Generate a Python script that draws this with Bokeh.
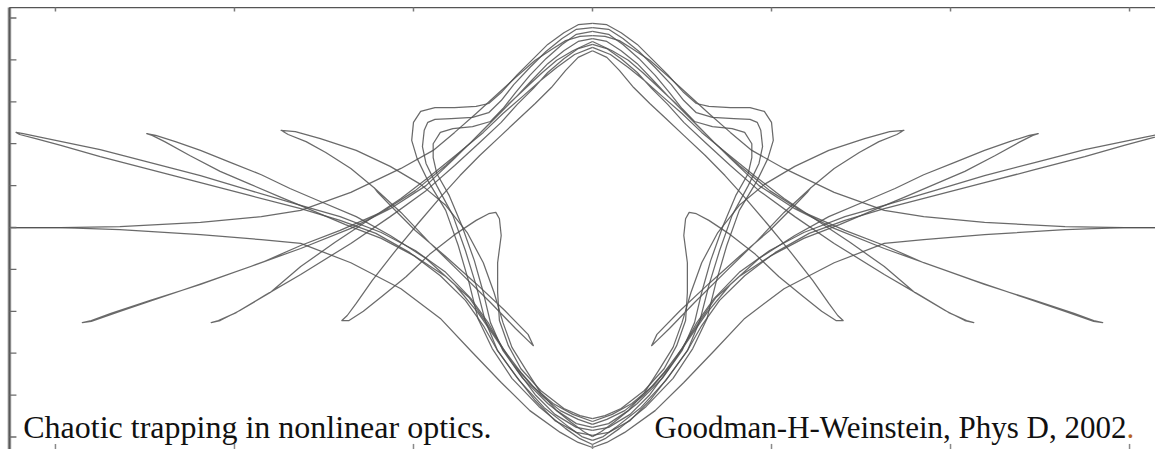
from bokeh.plotting import figure
from bokeh.models import Label
from bokeh.embed import file_html
from bokeh.resources import INLINE

# Left half of the trapped trajectory; the right half is its mirror image (x -> -x).
# Each strand is one pen stroke in (X, Y) plot units.
incoming_upper_x = [-3.26, -2.97, -2.64, -2.19, -1.85, -1.63, -1.35, -1.07, -0.89, -0.77, -0.65,
                    -0.54, -0.43, -0.32, -0.22, -0.15, -0.07, 0.0]
incoming_upper_y = [0.0, 0.0, 0.02, 0.12, 0.26, 0.41, 0.84, 1.41, 1.84, 2.27, 2.72,
                    3.15, 3.58, 3.99, 4.27, 4.46, 4.56, 4.58]

incoming_lower_x = [-3.26, -2.97, -2.64, -2.19, -1.85, -1.63, -1.35, -1.07, -0.85, -0.68,
                    -0.51, -0.35, -0.18, -0.08, 0.0]
incoming_lower_y = [0.0, 0.0, -0.05, -0.17, -0.29, -0.38, -0.84, -1.46, -2.17, -2.94,
                    -3.70, -4.37, -4.89, -5.13, -5.25]

# turns at the shoulders of the well
turn_1_x = [0.0, -0.08, -0.16, -0.25, -0.33, -0.42, -0.51, -0.58, -0.65, -0.77,
            -0.88, -0.96, -1.00, -1.01, -0.98, -0.92, -0.82, -0.75, -0.69, -0.64,
            -0.56, -0.45, -0.30, -0.15, -0.07, 0.0]
turn_1_y = [4.87, 4.84, 4.65, 4.37, 4.03, 3.65, 3.22, 2.96, 2.89, 2.86,
            2.86, 2.77, 2.51, 2.08, 1.65, 1.12, 0.41, -0.43, -1.31, -2.17,
            -2.89, -3.60, -4.27, -4.80, -5.04, -5.18]

turn_2_x = [0.0, -0.09, -0.17, -0.26, -0.35, -0.44, -0.51, -0.58, -0.67, -0.79,
            -0.88, -0.92, -0.94, -0.95, -0.93, -0.87, -0.78, -0.71, -0.65, -0.60,
            -0.53, -0.41, -0.27, -0.13, -0.06, 0.0]
turn_2_y = [4.77, 4.73, 4.51, 4.20, 3.82, 3.41, 3.03, 2.74, 2.63, 2.60,
            2.58, 2.51, 2.32, 1.93, 1.53, 1.00, 0.29, -0.55, -1.38, -2.22,
            -2.94, -3.65, -4.30, -4.77, -4.99, -5.08]

turn_3_x = [0.0, -0.09, -0.17, -0.26, -0.35, -0.43, -0.50, -0.57, -0.67, -0.78,
            -0.85, -0.89, -0.89, -0.87, -0.80, -0.73, -0.66, -0.61, -0.57, -0.50,
            -0.39, -0.25, -0.12, -0.05, 0.0]
turn_3_y = [4.68, 4.61, 4.37, 4.03, 3.63, 3.22, 2.84, 2.53, 2.41, 2.36,
            2.27, 2.00, 1.67, 1.29, 0.76, 0.05, -0.79, -1.55, -2.27, -2.94,
            -3.60, -4.20, -4.65, -4.87, -4.99]

# excursions into the lower-left lobes
lobe_l1_x = [0.0, -0.08, -0.16, -0.25, -0.34, -0.43, -0.53, -0.64, -0.77, -0.93,
             -1.13, -1.35, -1.63, -1.91, -2.19, -2.47, -2.69, -2.80, -2.85, -2.80,
             -2.64, -2.41, -2.13, -1.85, -1.63, -1.41, -1.18, -0.99, -0.82, -0.68,
             -0.57, -0.47, -0.37, -0.28, -0.20, -0.11, 0.0]
lobe_l1_y = [4.51, 4.44, 4.22, 3.91, 3.51, 3.10, 2.67, 2.20, 1.65, 1.00,
             0.45, -0.02, -0.50, -0.93, -1.36, -1.74, -2.05, -2.22, -2.27, -2.24,
             -2.00, -1.67, -1.26, -0.84, -0.43, -0.07, 0.36, 0.88, 1.48, 2.03,
             2.51, 2.94, 3.34, 3.70, 3.99, 4.22, 4.44]

lobe_l2_x = [0.0, -0.08, -0.16, -0.25, -0.33, -0.42, -0.51, -0.63, -0.77, -0.93,
             -1.13, -1.35, -1.63, -1.83, -1.99, -2.09, -2.13, -2.08, -1.97, -1.80,
             -1.63, -1.44, -1.24, -1.07, -0.91, -0.75, -0.61, -0.50, -0.39, -0.29,
             -0.20, -0.10, 0.0]
lobe_l2_y = [4.37, 4.27, 4.03, 3.70, 3.32, 2.94, 2.51, 2.03, 1.48, 0.88,
             0.26, -0.38, -1.12, -1.62, -2.03, -2.22, -2.27, -2.22, -1.98, -1.55,
             -0.93, -0.36, 0.21, 0.69, 1.22, 1.77, 2.27, 2.72, 3.13, 3.51,
             3.82, 4.13, 4.30]

lobe_l3_x = [0.0, -0.08, -0.15, -0.23, -0.32, -0.41, -0.51, -0.63, -0.74, -0.85,
             -0.97, -1.10, -1.23, -1.32, -1.37, -1.40, -1.36, -1.28, -1.17, -1.04,
             -0.91, -0.77, -0.65, -0.58, -0.54, -0.52, -0.51, -0.53, -0.53, -0.52,
             -0.47, -0.40, -0.29, -0.16, -0.07, 0.0]
lobe_l3_y = [4.22, 4.06, 3.75, 3.34, 2.96, 2.60, 2.20, 1.72, 1.24, 0.72,
             0.12, -0.55, -1.26, -1.81, -2.10, -2.22, -2.22, -2.00, -1.62, -1.17,
             -0.64, -0.17, 0.17, 0.33, 0.36, 0.21, -0.19, -0.84, -1.55, -2.22,
             -2.82, -3.37, -3.89, -4.32, -4.49, -4.56]

# excursions into the upper-left lobes
lobe_u1_x = [0.0, -0.09, -0.21, -0.32, -0.43, -0.53, -0.61, -0.71, -0.85, -1.02,
             -1.21, -1.41, -1.63, -1.91, -2.19, -2.47, -2.75, -2.97, -3.11, -3.20,
             -3.22, -3.18, -3.08, -2.75, -2.47, -2.19, -1.91, -1.63, -1.41, -1.18,
             -0.99, -0.82, -0.68, -0.58, -0.50, -0.40, -0.29, -0.18, -0.08, 0.0]
lobe_u1_y = [-4.96, -4.89, -4.61, -4.13, -3.53, -2.94, -2.34, -1.74, -1.15, -0.60,
             -0.14, 0.17, 0.45, 0.76, 1.07, 1.38, 1.69, 1.96, 2.12, 2.22,
             2.27, 2.24, 2.15, 1.86, 1.55, 1.24, 0.88, 0.53, 0.26, -0.12,
             -0.55, -1.07, -1.69, -2.29, -2.89, -3.46, -3.99, -4.37, -4.58, -4.70]

lobe_u2_x = [0.0, -0.09, -0.21, -0.32, -0.42, -0.51, -0.60, -0.69, -0.82, -0.99,
             -1.18, -1.38, -1.59, -1.74, -1.91, -2.08, -2.25, -2.39, -2.46, -2.49,
             -2.44, -2.33, -2.19, -2.02, -1.85, -1.69, -1.52, -1.32, -1.13, -0.93,
             -0.77, -0.64, -0.54, -0.45, -0.34, -0.22, -0.11, 0.0]
lobe_u2_y = [-4.84, -4.77, -4.46, -3.99, -3.41, -2.82, -2.22, -1.67, -1.17, -0.69,
             -0.26, 0.07, 0.45, 0.72, 1.03, 1.34, 1.72, 2.05, 2.20, 2.24,
             2.20, 2.05, 1.84, 1.55, 1.26, 0.93, 0.62, 0.26, -0.19, -0.74,
             -1.36, -2.03, -2.65, -3.22, -3.77, -4.20, -4.46, -4.63]

lobe_u3_x = [0.0, -0.09, -0.20, -0.29, -0.37, -0.45, -0.50, -0.55, -0.61, -0.70,
             -0.82, -0.96, -1.13, -1.32, -1.52, -1.66, -1.74, -1.70, -1.60, -1.49,
             -1.35, -1.22, -1.07, -0.91, -0.74, -0.57, -0.43, -0.36, -0.33, -0.36,
             -0.49, -0.65, -0.82, -0.99, -1.13, -1.20, -1.22]
lobe_u3_y = [-4.77, -4.68, -4.37, -3.94, -3.41, -2.86, -2.27, -1.55, -0.84, -0.12,
             0.53, 1.03, 1.46, 1.84, 2.12, 2.29, 2.32, 2.22, 2.05, 1.79,
             1.41, 0.95, 0.36, -0.36, -1.07, -1.79, -2.41, -2.70, -2.82, -2.55,
             -1.98, -1.34, -0.69, -0.07, 0.53, 0.84, 0.95]

strands = [
    (incoming_upper_x, incoming_upper_y), (incoming_lower_x, incoming_lower_y),
    (turn_1_x, turn_1_y), (turn_2_x, turn_2_y), (turn_3_x, turn_3_y),
    (lobe_l1_x, lobe_l1_y), (lobe_l2_x, lobe_l2_y), (lobe_l3_x, lobe_l3_y),
    (lobe_u1_x, lobe_u1_y), (lobe_u2_x, lobe_u2_y), (lobe_u3_x, lobe_u3_y),
]

x_ticks = [-3, -2, -1, 0, 1, 2, 3]
y_ticks = [-5, -4, -3, -2, -1, 0, 1, 2, 3, 4, 5]

caption_left = "Chaotic trapping in nonlinear optics."
caption_right = "Goodman-H-Weinstein, Phys D, 2002"

# plot box: left spine and top spine are visible, the rest runs past the page edge
X_LEFT, X_RIGHT = -3.257, 3.145
Y_TOP, Y_BOTTOM = 5.25, -5.298

p = figure(width=1155, height=449, x_range=(-3.307, X_RIGHT), y_range=(Y_BOTTOM, 5.418),
           output_backend="svg", toolbar_location=None,
           x_axis_location=None, y_axis_location=None, min_border=0)
p.outline_line_color = None
p.grid.visible = False
p.background_fill_color = "white"

xs = [list(sx) for sx, sy in strands] + [[-v for v in sx] for sx, sy in strands]
ys = [list(sy) for sx, sy in strands] + [list(sy) for sx, sy in strands]
p.multi_line(xs, ys, line_color="#505050", line_width=1.25, line_alpha=0.85, line_join="round")

# frame: spines and inward ticks
tick_x_len = 0.039   # left ticks
tick_y_len = 0.095   # top ticks
p.segment(x0=[X_LEFT], y0=[Y_BOTTOM], x1=[X_LEFT], y1=[Y_TOP], line_color="#8a8a8a", line_width=3.5)
p.segment(x0=[X_LEFT], y0=[Y_BOTTOM], x1=[X_LEFT], y1=[Y_TOP], line_color="#555555", line_width=1)
p.segment(x0=[X_LEFT], y0=[Y_TOP], x1=[X_RIGHT], y1=[Y_TOP], line_color="#555555", line_width=1.2)
p.segment(x0=[X_LEFT] * len(y_ticks), y0=y_ticks, x1=[X_LEFT + tick_x_len] * len(y_ticks), y1=y_ticks,
          line_color="#6a6a6a", line_width=1.3)
p.segment(x0=x_ticks, y0=[Y_TOP] * len(x_ticks), x1=x_ticks, y1=[Y_TOP - tick_y_len] * len(x_ticks),
          line_color="#7a7a7a", line_width=1.5)
p.segment(x0=x_ticks, y0=[Y_BOTTOM] * len(x_ticks), x1=x_ticks,
          y1=[Y_BOTTOM + 1.4 * tick_y_len] * len(x_ticks), line_color="#8a8a8a", line_width=1.5)

font = "Liberation Serif"
p.add_layout(Label(x=-3.18, y=-4.77, text=caption_left, text_font=font,
                   text_font_size="32px", text_color="#111111", text_baseline="alphabetic"))
p.add_layout(Label(x=2.983, y=-4.77, text=caption_right, text_font=font,
                   text_font_size="31px", text_color="#111111", text_baseline="alphabetic",
                   text_align="right"))
p.add_layout(Label(x=2.983, y=-4.77, text=".", text_font=font,
                   text_font_size="31px", text_color="#b8641e", text_baseline="alphabetic"))

open("out.html", "w").write(file_html(p, INLINE))
